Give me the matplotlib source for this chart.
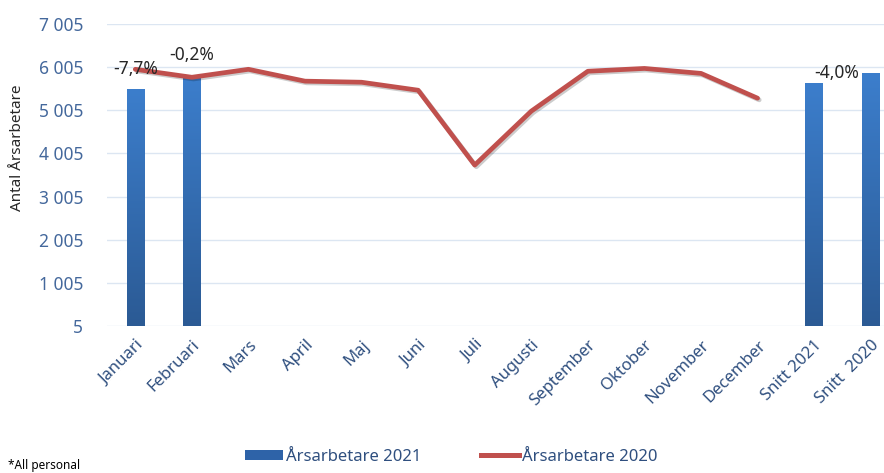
import matplotlib
matplotlib.use("Agg")
import matplotlib.pyplot as plt
import numpy as np
import matplotlib.patheffects as pe
from matplotlib.patches import Patch
from matplotlib.lines import Line2D
from matplotlib.colors import LinearSegmentedColormap

plt.rcParams['font.family'] = ['Noto Sans', 'DejaVu Sans']

categories = ["Januari", "Februari", "Mars", "April", "Maj", "Juni", "Juli",
              "Augusti", "September", "Oktober", "November", "December",
              "Snitt 2021", "Snitt  2020"]
bars_2021 = [5490, 5770, None, None, None, None, None, None, None, None, None, None, 5630, 5860]
line_2020 = [5955, 5770, 5955, 5680, 5655, 5470, 3735, 4985, 5910, 5975, 5860, 5285]
bar_labels = {0: "-7,7%", 1: "-0,2%", 12: "-4,0%"}
yticks = [5, 1005, 2005, 3005, 4005, 5005, 6005, 7005]
ytick_labels = ["5", "1 005", "2 005", "3 005", "4 005", "5 005", "6 005", "7 005"]

fig = plt.figure(figsize=(8.84, 4.73), dpi=100)
ax = fig.add_axes([107/884, (473-326)/473, (899-107)/884, (326-24)/473])

x = np.arange(len(categories))
bx = [i for i, v in enumerate(bars_2021) if v is not None]
bv = [v for v in bars_2021 if v is not None]
bars = ax.bar(bx, bv, width=0.31, color='none', edgecolor='none', zorder=2)

grad = np.linspace(0, 1, 256).reshape(-1, 1)
cmap = LinearSegmentedColormap.from_list('g', ['#2B5A94', '#3C7ECC'])
for b in bars:
    x0, y0 = b.get_x(), b.get_y()
    w, h = b.get_width(), b.get_height()
    im = ax.imshow(grad, cmap=cmap, aspect='auto', origin='lower',
                   extent=(x0, x0 + w, y0, y0 + h), zorder=2)
    im.set_clip_path(b)

ax.plot(x[:len(line_2020)], line_2020, color='#C0504D', lw=3.4, zorder=3,
        solid_joinstyle='round', solid_capstyle='round',
        path_effects=[pe.SimpleLineShadow(offset=(1.2, -1.2), alpha=0.2), pe.Normal()])

# label offsets in pixels (dx, dy of label centre relative to bar top)
offsets = {0: (0, 20), 1: (0, 22), 12: (23, 10)}
for i, t in bar_labels.items():
    dx, dy = offsets[i]
    ax.annotate(t, xy=(i, bars_2021[i]), xytext=(dx * 0.72, dy * 0.72),
                textcoords='offset points', ha='center', va='center',
                fontsize=12.5, color='#262626', zorder=4)

ax.set_xlim(-0.5, len(categories) - 0.5)
ax.set_ylim(5, 7005)
ax.set_yticks(yticks)
ax.set_yticklabels(ytick_labels, color='#44689C', fontsize=12.5)
ax.set_xticks(x)
ax.set_xticklabels(categories, rotation=45, ha='right', rotation_mode='anchor',
                   color='#2F4F7F', fontsize=12)
ax.tick_params(length=0, axis='both')
ax.tick_params(axis='y', pad=17)
ax.tick_params(axis='x', pad=8)
ax.grid(axis='y', color='#DCE6F2', lw=1)
ax.set_axisbelow(True)
for s in ax.spines.values():
    s.set_visible(False)

fig.text(18/884, (473-148)/473, "Antal Årsarbetare", rotation=90, ha='center', va='center',
         fontsize=11, color='#262626')
fig.text(8/884, 8/473, "*All personal", fontsize=8.5, ha='left', va='center', color='#000000')

handles = [Patch(facecolor='#2E63A8', edgecolor='none'),
           Line2D([0], [0], color='#C0504D', lw=3.6)]
leg = fig.legend(handles, ["Årsarbetare 2021", "Årsarbetare 2020"], loc='center',
                 bbox_to_anchor=(451/884, (473-457)/473), ncol=2, frameon=False,
                 fontsize=12, handlelength=2.3, handleheight=0.6, columnspacing=3.6,
                 handletextpad=0.15)
for t in leg.get_texts():
    t.set_color('#2F4F7F')

fig.savefig("out.png", dpi=100)
